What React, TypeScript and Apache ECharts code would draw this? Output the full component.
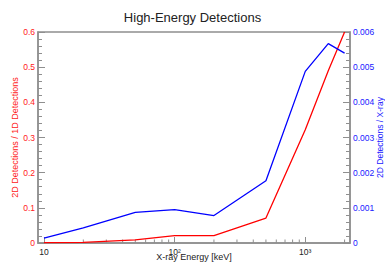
import React, { useEffect, useRef } from "react";
import * as echarts from "echarts";

const energies = [10, 20, 50, 100, 200, 500, 1000, 1500, 2000];
const ratio2D1D = [0.001, 0.002, 0.009, 0.021, 0.021, 0.071, 0.322, 0.49, 0.6];
const ratio2DXray = [0.00014, 0.00043, 0.00087, 0.00095, 0.00078, 0.00177, 0.00488, 0.00567, 0.0054];
const minorTickValues = [20, 30, 40, 50, 60, 70, 80, 90, 200, 300, 400, 500, 600, 700, 800, 900, 2000];
const xMin = 9;
const xMax = 2200;
const supDigits: Record<number, string> = { 2: "\u00B2", 3: "\u00B3" };

const FONT = "Liberation Sans, Arial, sans-serif";

export default function App() {
  const ref = useRef<HTMLDivElement>(null);
  useEffect(() => {
    if (!ref.current) return;
    const chart = echarts.init(ref.current, undefined, { renderer: "svg" });
    const axisGray = "#8f8f8f";
    chart.setOption({
      animation: false,
      backgroundColor: "#fff",
      title: {
        text: "High-Energy Detections",
        left: "center",
        top: 6,
        textStyle: { fontFamily: FONT, fontSize: 13, fontWeight: "normal", color: "#222" },
      },
      grid: {
        left: 38,
        right: 35,
        top: 32,
        bottom: 20,
        containLabel: false,
        outerBoundsMode: "none",
        show: true,
        borderColor: axisGray,
        borderWidth: 1.5,
      },
      xAxis: {
        type: "log",
        logBase: 10,
        min: xMin,
        max: xMax,
        name: "X-ray Energy [keV]",
        nameLocation: "middle",
        nameGap: 9,
        nameMoveOverlap: false,
        nameTextStyle: { fontFamily: FONT, fontSize: 9, color: "#222" },
        axisLine: { show: true, lineStyle: { color: axisGray, width: 1.5 } },
        axisTick: { show: true, inside: true, length: 6, lineStyle: { color: axisGray } },
        splitLine: { show: false },
        axisLabel: {
          fontFamily: FONT,
          fontSize: 8.5,
          color: "#222",
          margin: 4,
          showMinLabel: false,
          showMaxLabel: false,
          formatter: (v: number) => {
            const e = Math.round(Math.log10(v));
            if (Math.abs(Math.log10(v) - e) > 1e-6) return "";
            return e === 1 ? "10" : "10" + (supDigits[e] || "");
          },
        },
      },
      yAxis: [
        {
          type: "value",
          min: 0,
          max: 0.6,
          interval: 0.1,
          name: "2D Detections / 1D Detections",
          nameLocation: "middle",
          nameGap: 19,
          nameMoveOverlap: false,
          nameTextStyle: { fontFamily: FONT, fontSize: 9, color: "#ff2020" },
          axisLine: { show: true, lineStyle: { color: axisGray, width: 1.5 } },
          axisTick: { show: true, inside: true, length: 7, lineStyle: { color: axisGray } },
          minorTick: { show: true, splitNumber: 5, length: 4, lineStyle: { color: axisGray } },
          splitLine: { show: false },
          axisLabel: {
            fontFamily: FONT,
            fontSize: 8.5,
            color: "#ff2020",
            margin: 3,
            formatter: (v: number) => (v === 0 ? "0" : String(Math.round(v * 10) / 10)),
          },
        },
        {
          type: "value",
          min: 0,
          max: 0.006,
          interval: 0.001,
          position: "right",
          name: "2D Detections / X-ray",
          nameLocation: "middle",
          nameGap: 25,
          nameRotate: 90,
          nameMoveOverlap: false,
          nameTextStyle: { fontFamily: FONT, fontSize: 8.5, color: "#2020ff" },
          axisLine: { show: true, lineStyle: { color: axisGray, width: 1.5 } },
          axisTick: { show: true, inside: true, length: 7, lineStyle: { color: axisGray } },
          minorTick: { show: true, splitNumber: 5, length: 4, lineStyle: { color: axisGray } },
          splitLine: { show: false },
          axisLabel: {
            fontFamily: FONT,
            fontSize: 8.5,
            color: "#2020ff",
            margin: 3,
            formatter: (v: number) => (v === 0 ? "0" : v.toFixed(3)),
          },
        },
      ],
      series: [
        {
          type: "line",
          name: "2D/1D",
          yAxisIndex: 0,
          data: energies.map((e, i) => [e, ratio2D1D[i]]),
          showSymbol: false,
          lineStyle: { color: "#ff0000", width: 1.3 },
          itemStyle: { color: "#ff0000" },
        },
        {
          type: "line",
          name: "2D/X-ray",
          yAxisIndex: 1,
          data: energies.map((e, i) => [e, ratio2DXray[i]]),
          showSymbol: false,
          lineStyle: { color: "#0000ff", width: 1.3 },
          itemStyle: { color: "#0000ff" },
        },
        {
          type: "custom",
          silent: true,
          yAxisIndex: 0,
          clip: false,
          data: minorTickValues.map((v) => [v, 0]),
          renderItem: (params: any, api: any) => {
            const p = api.coord([api.value(0), 0]);
            return {
              type: "line",
              shape: { x1: p[0], y1: p[1], x2: p[0], y2: p[1] - 3.5 },
              style: { stroke: axisGray, lineWidth: 1 },
            };
          },
        },
      ],
    });
    return () => chart.dispose();
  }, []);
  return (
    <div
      ref={ref}
      style={{ position: "absolute", left: 0, top: 0, width: 385, height: 263 }}
    />
  );
}
